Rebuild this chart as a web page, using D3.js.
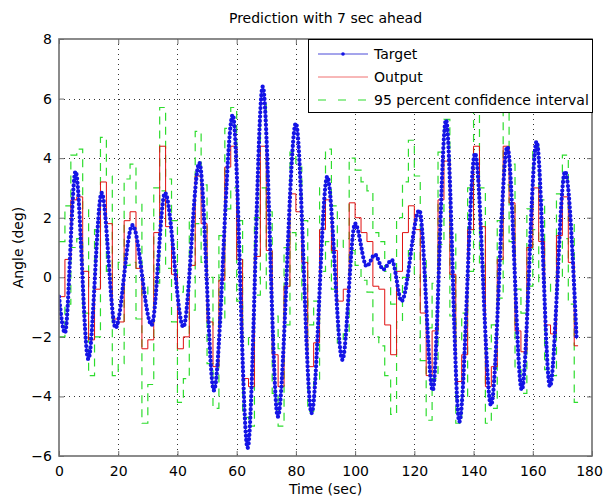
<!DOCTYPE html>
<html>
<head>
<meta charset="utf-8">
<script src="https://cdn.jsdelivr.net/npm/d3@7/dist/d3.min.js"></script>
<style>
body { margin: 0; background: #fff; }
text { font-family: "DejaVu Sans", Arial, Helvetica, sans-serif; }
</style>
</head>
<body>
<svg id="chart" width="603" height="496"></svg>
<script>
// target: turning points (sec, deg)
var targetTime = [0, 2, 5.6, 9.9, 14.4, 19.1, 24.8, 31.3, 35.8, 42, 47.4, 52.3, 58.7, 63.7,
    68.8, 73.9, 80, 85.3, 90.6, 95.7, 100, 103.9, 106.7, 109.5, 112.4, 115.7, 121.7, 126.2,
    130.7, 135.2, 140.5, 145.9, 151.4, 156.3, 161.3, 165.8, 170.9, 174.8];
var targetAngle = [-0.65, -1.87, 3.55, -2.75, 2.83, -1.7, 1.75, -1.6, 2.83, -1.67, 3.84, -3.8, 5.45, -5.73,
    6.4, -4.68, 5.17, -4.56, 3.38, -2.77, 1.8, 0.37, 0.76, 0.26, 0.58, -0.8, 2.25, -3.8,
    5.28, -4.85, 4.16, -4.3, 4.38, -3.78, 4.55, -3.67, 3.55, -2.08];

// output and confidence bounds, held for 2 sec each
var outputStep = 2;
var outputEnd = 175.3;
var outputAngle = [-0.65, 0.6, 2.6, 2.7, 0.2, -2.1, -0.4, 3.2, 1.8, -1.4,
    -1.5, 1.9, 2.2, 0.3, -2.4, -2.1, 1.5, 4.4, 1.7, 0.1,
    -2.4, -2.0, 0.4, 3.4, 1.8, -1.5, -3.0, -0.1, 3.7, 4.4,
    0.6, -3.4, -3.67, 0.7, 4.4, 0.9, -2.6, -3.67, -0.3, 2.8,
    2.2, 0.5, -3.0, -2.2, 1.6, 2.6, 0.9, -0.8, -0.4, 2.5,
    2.0, 1.5, 1.2, -0.3, -0.4, -1.6, -2.6, 0.2, 1.5, 2.4,
    1.6, -1.2, -3.3, -1.8, 2.6, 3.9, 0.1, -3.5, -2.6, 1.6,
    4.4, 1.7, -3.67, -3.0, 0.6, 4.4, 2.5, -1.8, -2.5, 1.0,
    3.0, 1.2, -1.6, -1.9, 1.4, 2.7, 0.5, -2.3];
var ciUpper = [1.2, 2.4, 4.1, 4.3, 2.3, -0.4, 1.6, 4.7, 3.4, 0.3,
    0.5, 3.3, 3.8, 2.5, -0.6, -0.3, 3.0, 5.7, 3.3, 1.9,
    -0.5, -0.3, 2.0, 4.9, 3.1, 0.0, -1.6, 1.4, 5.0, 5.7,
    1.9, -2.0, -2.3, 2.0, 5.8, 2.2, -1.3, -2.4, 1.0, 4.2,
    3.7, 1.9, -1.6, -0.8, 3.0, 4.3, 2.4, 1.0, 1.3, 4.0,
    3.6, 3.2, 2.9, 1.5, 1.2, 0.2, -0.9, 2.0, 3.2, 4.6,
    3.4, 0.6, -1.7, -0.2, 4.2, 5.3, 1.5, -2.1, -1.2, 3.0,
    5.6, 3.0, -2.4, -1.6, 1.9, 5.6, 3.8, -0.4, -1.2, 2.3,
    4.4, 2.6, -0.2, -0.5, 2.8, 4.1, 1.9, -0.9];
var ciLower = [-2.0, -0.9, 1.0, 1.3, -1.2, -3.3, -2.0, 1.8, 0.2, -3.3,
    -2.9, 0.4, 0.5, -1.4, -4.9, -3.6, -0.2, 2.9, 0.3, -1.5,
    -4.2, -3.4, -1.1, 1.8, 0.5, -2.9, -4.4, -1.5, 2.3, 3.0,
    -0.8, -4.7, -5.0, -0.6, 3.0, -0.5, -3.9, -5.0, -1.6, 1.5,
    0.9, -0.8, -4.5, -3.5, 0.2, 1.2, -0.4, -2.2, -1.9, 0.9,
    0.4, -0.1, -0.5, -2.0, -2.3, -3.3, -4.6, -1.5, 0.0, 0.9,
    0.1, -2.8, -4.8, -3.4, 1.1, 2.5, -1.3, -4.9, -4.0, 0.2,
    3.1, 0.4, -4.9, -4.4, -0.7, 3.1, 1.2, -3.1, -3.9, -0.3,
    1.6, -0.2, -3.1, -3.3, 0.0, 1.3, -0.9, -4.2];

var xTicks = [0, 20, 40, 60, 80, 100, 120, 140, 160, 180];
var yTicks = [-6, -4, -2, 0, 2, 4, 6, 8];

var legendLabels = ['Target', 'Output', '95 percent confidence interval'];

var colors = {
    target: '#1414e6',
    targetLine: '#4a4ad8',
    output: '#e01010',
    ci: '#2edc2e',
    axis: '#6e6e6e',
    grid: '#333'
};

var fontFamily = '"DejaVu Sans", Arial, sans-serif';
var frame = { left: 59, right: 592, top: 39, bottom: 456 };

var svg = d3.select('#chart');

var x = d3.scaleLinear().domain([0, 180]).range([frame.left, frame.right]);
var y = d3.scaleLinear().domain([-6, 8]).range([frame.bottom, frame.top]);

svg.append('defs').append('clipPath').attr('id', 'plotClip')
    .append('rect')
    .attr('x', frame.left).attr('y', frame.top)
    .attr('width', frame.right - frame.left)
    .attr('height', frame.bottom - frame.top);

// grid
var grid = svg.append('g');
grid.selectAll('line.gx').data(xTicks.slice(1, -1)).enter().append('line')
    .attr('x1', function (d) { return Math.round(x(d)) + 0.5; })
    .attr('x2', function (d) { return Math.round(x(d)) + 0.5; })
    .attr('y1', frame.top).attr('y2', frame.bottom)
    .attr('stroke', colors.grid).attr('stroke-width', 1)
    .attr('stroke-dasharray', '1,4');
grid.selectAll('line.gy').data(yTicks.slice(1, -1)).enter().append('line')
    .attr('y1', function (d) { return Math.round(y(d)) + 0.5; })
    .attr('y2', function (d) { return Math.round(y(d)) + 0.5; })
    .attr('x1', frame.left).attr('x2', frame.right)
    .attr('stroke', colors.grid).attr('stroke-width', 1)
    .attr('stroke-dasharray', '1,4');

// series
var plot = svg.append('g').attr('clip-path', 'url(#plotClip)');

function stepPoints(values) {
    var pts = values.map(function (v, i) { return [i * outputStep, v]; });
    pts.push([outputEnd, values[values.length - 1]]);
    return pts;
}

var stepLine = d3.line()
    .x(function (d) { return x(d[0]); })
    .y(function (d) { return y(d[1]); })
    .curve(d3.curveStepAfter);

var targetLine = d3.line()
    .x(function (d, i) { return x(targetTime[i]); })
    .y(function (d) { return y(d); })
    .curve(d3.curveMonotoneX);

[ciUpper, ciLower].forEach(function (band) {
    plot.append('path')
        .attr('d', stepLine(stepPoints(band)))
        .attr('fill', 'none')
        .attr('stroke', colors.ci)
        .attr('stroke-width', 1.2)
        .attr('stroke-dasharray', '8,6');
});

plot.append('path')
    .attr('d', stepLine(stepPoints(outputAngle)))
    .attr('fill', 'none')
    .attr('stroke', colors.output)
    .attr('stroke-width', 1);

plot.append('path')
    .attr('d', targetLine(targetAngle))
    .attr('fill', 'none')
    .attr('stroke', colors.targetLine)
    .attr('stroke-width', 1);

// '.' markers along the target
plot.append('path')
    .attr('d', targetLine(targetAngle))
    .attr('fill', 'none')
    .attr('stroke', colors.target)
    .attr('stroke-width', 4.3)
    .attr('stroke-linecap', 'round')
    .attr('stroke-dasharray', '0,4.3');

// axes, ticks inside like matlab
function minusFmt(d) { return d < 0 ? '\u2212' + Math.abs(d) : String(d); }

function styleAxis(g) {
    g.select('.domain').remove();
    g.selectAll('line').attr('stroke', colors.axis);
    g.attr('font-size', 14).attr('font-family', fontFamily);
    g.selectAll('text').attr('fill', '#000');
}

var gx = svg.append('g')
    .attr('transform', 'translate(0,' + frame.bottom + ')')
    .call(d3.axisBottom(x).tickValues(xTicks).tickSizeInner(-5).tickSizeOuter(0).tickPadding(10).tickFormat(minusFmt))
    .call(styleAxis);
// last label sits at the window edge
gx.selectAll('text').filter(function (d) { return d === 180; }).attr('dx', -3);

svg.append('g')
    .attr('transform', 'translate(0,' + frame.top + ')')
    .call(d3.axisTop(x).tickValues(xTicks).tickSizeInner(-5).tickSizeOuter(0).tickFormat(''))
    .call(styleAxis);

svg.append('g')
    .attr('transform', 'translate(' + frame.left + ',0)')
    .call(d3.axisLeft(y).tickValues(yTicks).tickSizeInner(-5).tickSizeOuter(0).tickPadding(7).tickFormat(minusFmt))
    .call(styleAxis);

svg.append('g')
    .attr('transform', 'translate(' + frame.right + ',0)')
    .call(d3.axisRight(y).tickValues(yTicks).tickSizeInner(-5).tickSizeOuter(0).tickFormat(''))
    .call(styleAxis);

svg.append('rect')
    .attr('x', frame.left).attr('y', frame.top)
    .attr('width', frame.right - frame.left)
    .attr('height', frame.bottom - frame.top)
    .attr('fill', 'none')
    .attr('stroke', colors.axis)
    .attr('stroke-width', 1.6);

// legend
var legend = svg.append('g').attr('transform', 'translate(308,39)');
legend.append('rect')
    .attr('x', 0.5).attr('y', 0.5)
    .attr('width', 284).attr('height', 73)
    .attr('fill', '#fff')
    .attr('stroke', '#000')
    .attr('stroke-width', 1);

var rowY = [15, 38, 61];
var rows = legend.selectAll('g.row').data(legendLabels).enter().append('g')
    .attr('transform', function (d, i) { return 'translate(0,' + rowY[i] + ')'; });

rows.append('text')
    .attr('x', 66).attr('dy', '0.36em')
    .attr('font-size', 14)
    .text(function (d) { return d; });

rows.filter(function (d, i) { return i === 0; }).each(function () {
    var r = d3.select(this);
    r.append('line').attr('x1', 10).attr('x2', 60).attr('y1', 0).attr('y2', 0)
        .attr('stroke', colors.targetLine).attr('stroke-width', 1);
    r.append('circle').attr('cx', 35).attr('cy', 0).attr('r', 1.8).attr('fill', colors.target);
});
rows.filter(function (d, i) { return i === 1; })
    .append('line').attr('x1', 10).attr('x2', 60).attr('y1', 0).attr('y2', 0)
    .attr('stroke', '#f07070').attr('stroke-width', 1);
rows.filter(function (d, i) { return i === 2; })
    .append('line').attr('x1', 10).attr('x2', 60).attr('y1', 0).attr('y2', 0)
    .attr('stroke', colors.ci).attr('stroke-width', 1.2).attr('stroke-dasharray', '8,12');

// titles
svg.append('text')
    .attr('x', (frame.left + frame.right) / 2).attr('y', 23)
    .attr('text-anchor', 'middle').attr('font-size', 14)
    .text('Prediction with 7 sec ahead');

svg.append('text')
    .attr('x', (frame.left + frame.right) / 2).attr('y', 494)
    .attr('text-anchor', 'middle').attr('font-size', 14)
    .text('Time (sec)');

svg.append('text')
    .attr('transform', 'translate(23,' + (frame.top + frame.bottom) / 2 + ') rotate(-90)')
    .attr('text-anchor', 'middle').attr('font-size', 14)
    .text('Angle (deg)');
</script>
</body>
</html>
